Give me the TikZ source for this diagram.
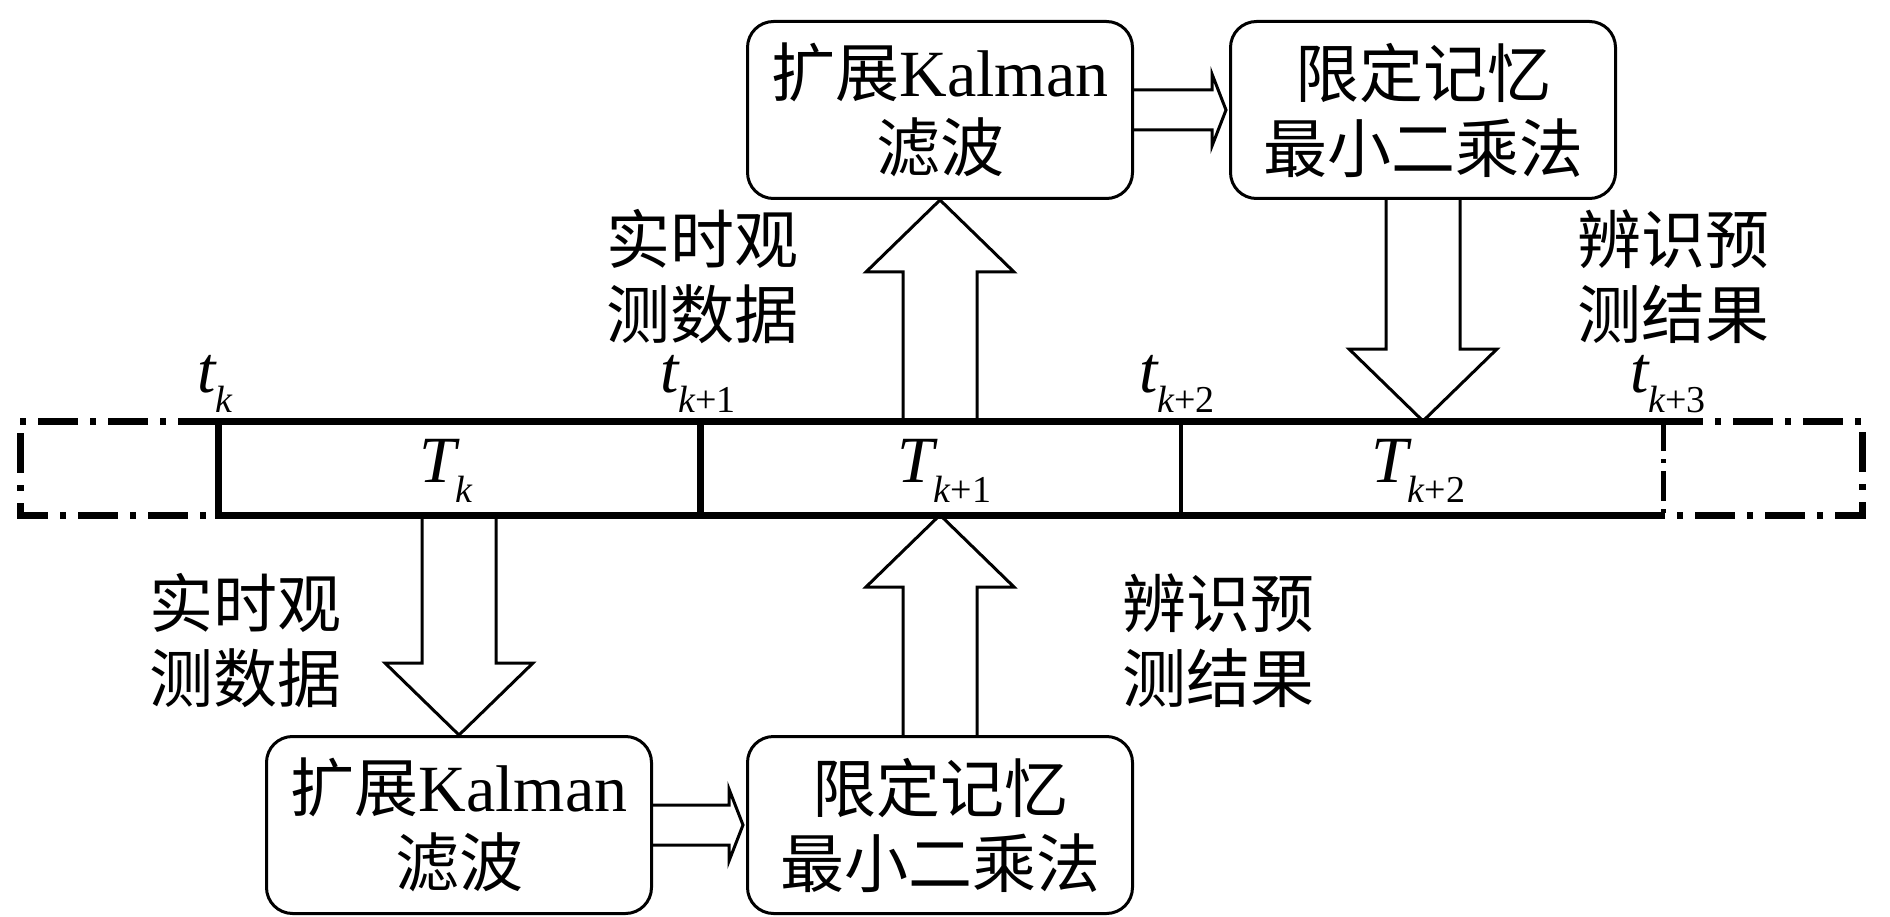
\documentclass[tikz,border=0pt]{standalone}
\usepackage{fontspec}
\setmainfont{Liberation Serif}
\newfontfamily\cjk{Noto Sans CJK SC}
\usetikzlibrary{calc}
\newcommand\tlab[2]{{\fontsize{66}{66}\selectfont\itshape #1}\raisebox{-20pt}{\fontsize{38}{38}\selectfont{\itshape k}#2}}
\newcommand\vblock[3]{\draw[blockarr] ($(#2|-#1)+(-37,0)$) -- ($(#2)+(-37,#3)$) -- ($(#2)+(-74,#3)$) -- (#2) -- ($(#2)+(74,#3)$) -- ($(#2)+(37,#3)$) -- ($(#2|-#1)+(37,0)$);}
\newcommand\hblock[2]{\draw[blockarr] ($(#1)+(0,-20)$) -- ($(#2|-#1)+(-17,-20)$) -- ($(#2|-#1)+(-17,-36)$) -- ($(#2|-#1)+(-3,0)$) -- ($(#2|-#1)+(-17,36)$) -- ($(#2|-#1)+(-17,20)$) -- ($(#1)+(0,20)$);}
\tikzset{
  boxst/.style={draw, line width=3pt, rounded corners=26pt, minimum width=385pt, minimum height=177pt, inner sep=0pt, align=center, font=\fontsize{64}{75}\selectfont},
  labst/.style={align=center, inner sep=0pt, font=\fontsize{64}{75}\selectfont\cjk},
  blockarr/.style={draw, line width=3pt, line join=miter},
  thickline/.style={line width=7pt, line join=miter},
  dashdotline/.style={line width=7pt, dash pattern=on 40pt off 12pt on 6pt off 12pt},
}
\begin{document}
\begin{tikzpicture}[x=1pt, y=-1pt]
\useasboundingbox[fill=white] (0,0) rectangle (1890,917);
% timeline coordinates
\coordinate (tlTop) at (0,421);
\coordinate (tlBot) at (0,515);
\coordinate (k0) at (218,421);
\coordinate (k1) at (700,421);
\coordinate (k2) at (1181,421);
\coordinate (k3) at (1663,421);
\coordinate (L) at (20,421);
\coordinate (R) at (1862,421);
% boxes
\node[boxst] (tb1) at (940,110) {{\cjk 扩展}{\fontsize{66}{75}\selectfont Kalman}\\{\cjk 滤波}};
\node[boxst] (tb2) at (1423,110) {{\cjk 限定记忆}\\{\cjk 最小二乘法}};
\node[boxst] (bb1) at (459,825) {{\cjk 扩展}{\fontsize{66}{75}\selectfont Kalman}\\{\cjk 滤波}};
\node[boxst] (bb2) at (940,825) {{\cjk 限定记忆}\\{\cjk 最小二乘法}};
% labels
\node[labst] (l1) at (702,277) {实时观\\测数据};
\node[labst] (l2) at (1673,277) {辨识预\\测结果};
\node[labst] (l3) at (245,641) {实时观\\测数据};
\node[labst] (l4) at (1218,641) {辨识预\\测结果};
% time labels
\node[anchor=base west, inner sep=0pt] (t0) at (197,392) {\tlab{t}{}};
\node[anchor=base west, inner sep=0pt] (t1) at (660,392) {\tlab{t}{+1}};
\node[anchor=base west, inner sep=0pt] (t2) at (1139,392) {\tlab{t}{+2}};
\node[anchor=base west, inner sep=0pt] (t3) at (1630,392) {\tlab{t}{+3}};
\node[anchor=base, inner sep=0pt] (T0) at (446,482) {\tlab{T}{}};
\node[anchor=base, inner sep=0pt] (T1) at (944,482) {\tlab{T}{+1}};
\node[anchor=base, inner sep=0pt] (T2) at (1418,482) {\tlab{T}{+2}};
% block arrows
\coordinate (d1tip) at (tb2.south |- tlTop);
\coordinate (u2tip) at (bb2.north |- tlBot);
\vblock{tlTop}{tb1.south}{72}
\vblock{tb2.south}{d1tip}{-72}
\vblock{tlBot}{bb1.north}{-72}
\vblock{bb2.north}{u2tip}{72}
\hblock{tb1.east}{tb2.west}
\hblock{bb1.east}{bb2.west}
% timeline
\draw[thickline] (k3) -- (k0) -- (k0|-tlBot) -- (k3|-tlBot);
\draw[thickline] (k1) -- (k1|-tlBot);
\draw[line width=4pt] (k2) -- (k2|-tlBot);
\draw[line width=5pt, dash pattern=on 30pt off 8pt on 4pt off 8pt] (k3) -- (k3|-tlBot);
\draw[dashdotline] (k0) -- (L) -- (L|-tlBot) -- (k0|-tlBot);
\draw[dashdotline] (k3) -- (R) -- (R|-tlBot) -- (k3|-tlBot);
\end{tikzpicture}
\end{document}
